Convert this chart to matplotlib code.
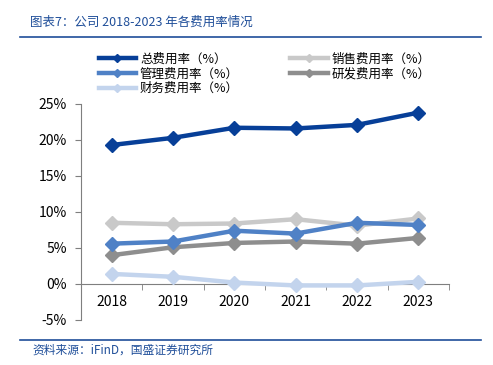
import matplotlib.pyplot as plt
from matplotlib.lines import Line2D
from matplotlib.ticker import FuncFormatter

plt.rcParams['font.family'] = ['Noto Sans CJK SC', 'DejaVu Sans']

# data (%)
years = ["2018", "2019", "2020", "2021", "2022", "2023"]
total = [19.3, 20.3, 21.7, 21.6, 22.1, 23.8]
selling = [8.5, 8.3, 8.4, 9.0, 8.1, 9.1]
mgmt = [5.6, 5.9, 7.4, 7.0, 8.5, 8.2]
rnd = [4.0, 5.1, 5.7, 5.9, 5.6, 6.4]
finance = [1.4, 1.0, 0.2, -0.2, -0.2, 0.3]

labels = ["总费用率（%）", "销售费用率（%）", "管理费用率（%）", "研发费用率（%）", "财务费用率（%）"]
colors = ["#073f98", "#c9c9c9", "#4f81c6", "#8e8e8e", "#c3d4ed"]

fig = plt.figure(figsize=(4.93, 3.65), dpi=100)
ax = fig.add_axes([0.1643, 0.1233, 0.7465, 0.5918])

x = list(range(len(years)))
series = [total, selling, mgmt, rnd, finance]
# light series first so the dark ones sit on top
for i in [4, 1, 3, 2, 0]:
    ax.plot(x, series[i], color=colors[i], lw=3.2, marker="D", ms=7,
            solid_joinstyle="round", zorder=3)

ax.set_xlim(-0.5, 5.5)
ax.set_ylim(-5, 25)
ax.set_yticks(range(-5, 26, 5))
ax.yaxis.set_major_formatter(FuncFormatter(lambda v, p: f"{v:.0f}%"))
ax.set_xticks(x)
ax.set_xticklabels(years)
ax.set_xticks([i - 0.5 for i in range(len(years) + 1)], minor=True)

for s in ["top", "right"]:
    ax.spines[s].set_visible(False)
ax.spines["bottom"].set_position(("data", 0))
ax.spines["bottom"].set_color("#7f7f7f")
ax.spines["left"].set_color("#7f7f7f")
ax.tick_params(axis="x", which="major", length=0, pad=8, labelsize=10)
ax.tick_params(axis="x", which="minor", length=4, direction="out", color="#7f7f7f")
ax.tick_params(axis="y", length=4, color="#7f7f7f", labelsize=10, pad=6)

# legend fills column by column: reorder so rows read total/selling, mgmt/rnd, finance
leg_order = [0, 2, 4, 1, 3]
handles = [Line2D([], [], color=colors[i], lw=3.2, marker="D", ms=4) for i in leg_order]
fig.legend(handles, [labels[i] for i in leg_order], loc="upper left",
           bbox_to_anchor=(0.19, 0.87), ncol=2, frameon=False, fontsize=9,
           handlelength=3.0, handletextpad=0.3, columnspacing=4.1,
           labelspacing=0.15, borderaxespad=0)

# header / footer
fig.text(0.06, 0.94, "图表7：公司 2018-2023 年各费用率情况", color="#1f4e99",
         fontsize=9, style="italic", va="center")
fig.add_artist(Line2D([0.04, 0.975], [0.898, 0.898], color="#1f4e99", lw=1.2))
fig.add_artist(Line2D([0.04, 0.975], [0.068, 0.068], color="#1f4e99", lw=1.2))
fig.text(0.065, 0.042, "资料来源：iFinD，国盛证券研究所", color="#1f4e99",
         fontsize=8.5, style="italic", va="center")

fig.savefig("out.png", dpi=100)
